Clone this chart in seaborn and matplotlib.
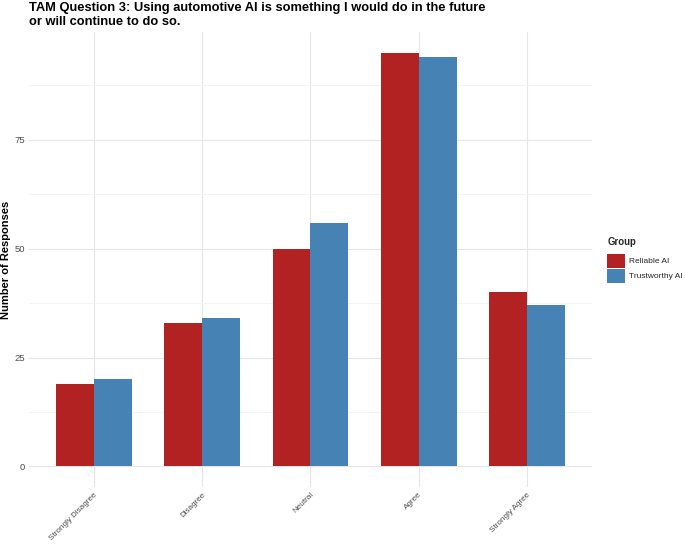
import matplotlib
matplotlib.use('Agg')
import matplotlib.pyplot as plt
import matplotlib.ticker as mticker
import pandas as pd
import seaborn as sns

# Response counts per Likert level and group
responses = ['Strongly Disagree', 'Disagree', 'Neutral', 'Agree', 'Strongly Agree']
reliable = [19, 33, 50, 95, 40]
trustworthy = [20, 34, 56, 94, 37]
groups = ['Reliable AI', 'Trustworthy AI']

df = pd.DataFrame({
    'Response': responses * 2,
    'Count': reliable + trustworthy,
    'Group': [groups[0]] * len(responses) + [groups[1]] * len(responses),
})

sns.set_theme(style='white')
plt.rcParams['font.family'] = ['Liberation Sans', 'DejaVu Sans']

fig = plt.figure(figsize=(6.85, 5.45), dpi=100)
ax = fig.add_axes([0.0423, 0.1064, 0.8217, 0.8346])

sns.barplot(data=df, x='Response', y='Count', hue='Group', order=responses,
            hue_order=groups, palette=['#B22222', '#4682B4'], width=0.7,
            saturation=1, linewidth=0, edgecolor='none', ax=ax, legend=True)

ymax = max(reliable + trustworthy)
ax.set_ylim(-0.05 * ymax, 1.05 * ymax)
ax.set_xlim(-0.6, len(responses) - 0.4)
ax.yaxis.set_major_locator(mticker.MultipleLocator(25))
ax.yaxis.set_minor_locator(mticker.MultipleLocator(12.5))
ax.grid(which='major', axis='both', color='#E6E6E6', linewidth=0.8)
ax.grid(which='minor', axis='y', color='#F2F2F2', linewidth=0.6)
ax.set_axisbelow(True)
for s in ax.spines.values():
    s.set_visible(False)
ax.tick_params(axis='both', which='both', length=0, colors='#4D4D4D', pad=3)
ax.tick_params(axis='x', labelsize=5.9)
ax.tick_params(axis='y', labelsize=6.8)
plt.setp(ax.get_xticklabels(), rotation=45, ha='right', rotation_mode='anchor')

ax.set_xlabel('')
ax.set_ylabel('Number of Responses', fontsize=8, fontweight='bold', color='black')
ax.yaxis.set_label_coords(-0.032, 0.5)
ax.set_title('TAM Question 3: Using automotive AI is something I would do in the future\n'
             'or will continue to do so.', loc='left', fontsize=9.25, fontweight='bold',
             color='black', pad=5, linespacing=1.3)

leg = ax.legend(title='Group', loc='center left', bbox_to_anchor=(1.014, 0.5),
                frameon=False, fontsize=6.0, title_fontsize=6.9,
                handlelength=2.1, handleheight=2.2, handletextpad=0.5,
                labelspacing=0.12)
leg.get_title().set_fontweight('bold')
leg._legend_box.align = 'left'
leg._legend_box.sep = 5

fig.savefig('out.png', dpi=100)
